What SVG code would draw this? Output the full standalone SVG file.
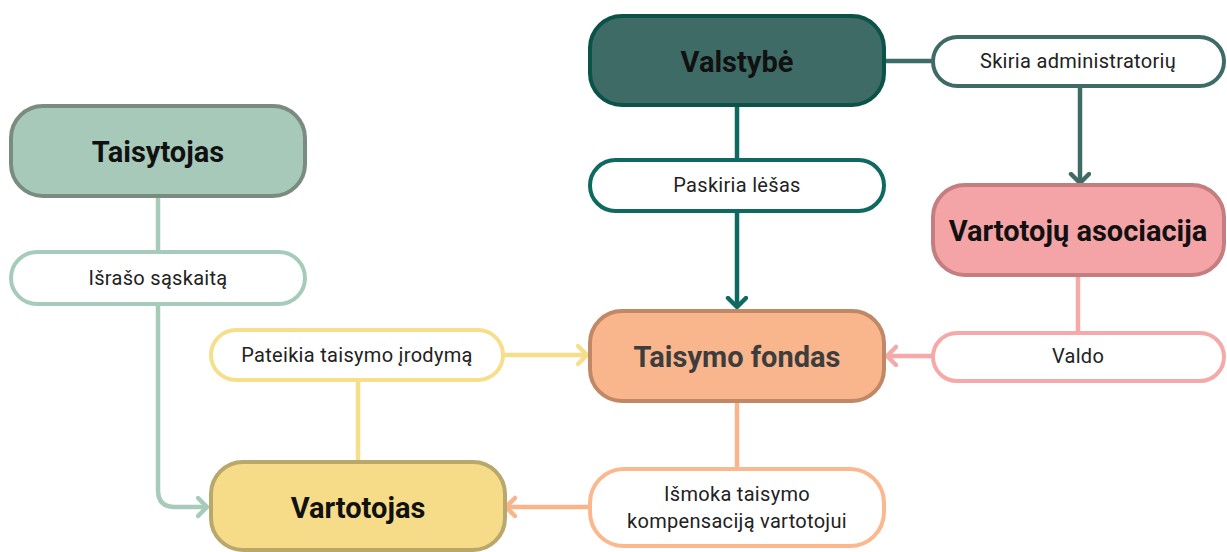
<svg xmlns="http://www.w3.org/2000/svg" width="1227" height="552" viewBox="0 0 1227 552">
  <style>
    .title { font-family: Roboto, "Liberation Sans", sans-serif; font-weight: bold; font-size: 29px; fill: #111; text-anchor: middle; dominant-baseline: central; }
    .label { font-family: Roboto, "Liberation Sans", sans-serif; font-size: 20px; fill: #222; text-anchor: middle; dominant-baseline: central; letter-spacing: 0.3px; }
    .pill { fill: #ffffff; stroke-width: 4; }
    .node { stroke-width: 4; }
    .conn { fill: none; stroke-width: 4.5; }
  </style>
  <defs>
    <marker id="ar-teal" markerUnits="userSpaceOnUse" markerWidth="24" markerHeight="24" refX="9" refY="11" orient="auto">
      <path d="M2,2 L11,11 L2,20" fill="none" stroke="#0e6a61" stroke-width="4.5" stroke-linecap="round" stroke-linejoin="round"/>
    </marker>
    <marker id="ar-teal2" markerUnits="userSpaceOnUse" markerWidth="24" markerHeight="24" refX="9" refY="11" orient="auto">
      <path d="M2,2 L11,11 L2,20" fill="none" stroke="#3f6b66" stroke-width="4.5" stroke-linecap="round" stroke-linejoin="round"/>
    </marker>
    <marker id="ar-pink" markerUnits="userSpaceOnUse" markerWidth="24" markerHeight="24" refX="9" refY="11" orient="auto">
      <path d="M2,2 L11,11 L2,20" fill="none" stroke="#f6a9a9" stroke-width="4.5" stroke-linecap="round" stroke-linejoin="round"/>
    </marker>
    <marker id="ar-green" markerUnits="userSpaceOnUse" markerWidth="24" markerHeight="24" refX="9" refY="11" orient="auto">
      <path d="M2,2 L11,11 L2,20" fill="none" stroke="#a7cbbb" stroke-width="4.5" stroke-linecap="round" stroke-linejoin="round"/>
    </marker>
    <marker id="ar-yellow" markerUnits="userSpaceOnUse" markerWidth="24" markerHeight="24" refX="9" refY="11" orient="auto">
      <path d="M2,2 L11,11 L2,20" fill="none" stroke="#f6df8b" stroke-width="4.5" stroke-linecap="round" stroke-linejoin="round"/>
    </marker>
    <marker id="ar-orange" markerUnits="userSpaceOnUse" markerWidth="24" markerHeight="24" refX="9" refY="11" orient="auto">
      <path d="M2,2 L11,11 L2,20" fill="none" stroke="#f9b48a" stroke-width="4.5" stroke-linecap="round" stroke-linejoin="round"/>
    </marker>
  </defs>
  <rect width="1227" height="552" fill="#ffffff"/>

  <g id="connectors">
    <line class="conn" x1="884" y1="61" x2="933" y2="61" stroke="#3f6b66"/>
    <line class="conn" x1="1080" y1="87" x2="1080" y2="181" stroke="#3f6b66" marker-end="url(#ar-teal2)"/>
    <line class="conn" x1="737" y1="105" x2="737" y2="160" stroke="#0e6a61"/>
    <line class="conn" x1="737" y1="211" x2="737" y2="305" stroke="#0e6a61" marker-end="url(#ar-teal)"/>
    <line class="conn" x1="1078" y1="275" x2="1078" y2="333" stroke="#f6a9a9"/>
    <line class="conn" x1="933" y1="356" x2="889" y2="356" stroke="#f6a9a9" marker-end="url(#ar-pink)"/>
    <line class="conn" x1="158" y1="196" x2="158" y2="252" stroke="#a7cbbb"/>
    <path class="conn" d="M158,304 V490 Q158,507 175,507 H205" stroke="#a7cbbb" marker-end="url(#ar-green)"/>
    <line class="conn" x1="503" y1="355" x2="585" y2="355" stroke="#f6df8b" marker-end="url(#ar-yellow)"/>
    <line class="conn" x1="358" y1="380" x2="358" y2="461" stroke="#f6df8b"/>
    <line class="conn" x1="737" y1="401" x2="737" y2="469" stroke="#f9b48a"/>
    <line class="conn" x1="590" y1="507" x2="508" y2="507" stroke="#f9b48a" marker-end="url(#ar-orange)"/>
  </g>

  <g id="valstybe">
    <rect class="node" x="590" y="16" width="294" height="89" rx="32" fill="#3e6b66" stroke="#0b5249"/>
    <text class="title" x="737" y="62">Valstybė</text>
  </g>
  <g id="skiria-administratoriu">
    <rect class="pill" x="933" y="37" width="291" height="49" rx="24.5" stroke="#3f6b66"/>
    <text class="label" x="1078" y="61">Skiria administratorių</text>
  </g>
  <g id="vartotoju-asociacija">
    <rect class="node" x="933" y="185" width="291" height="90" rx="32" fill="#f4a4a6" stroke="#c47e80"/>
    <text class="title" x="1078" y="231">Vartotojų asociacija</text>
  </g>
  <g id="paskiria-lesas">
    <rect class="pill" x="590" y="160" width="294" height="51" rx="25.5" stroke="#0e6a61"/>
    <text class="label" x="737" y="185">Paskiria lėšas</text>
  </g>
  <g id="taisymo-fondas">
    <rect class="node" x="590" y="311" width="294" height="90" rx="32" fill="#f9b58b" stroke="#c08867"/>
    <text class="title" x="737" y="357" style="fill:#3d3d3d">Taisymo fondas</text>
  </g>
  <g id="valdo">
    <rect class="pill" x="933" y="333" width="291" height="48" rx="24" stroke="#f6a9a9"/>
    <text class="label" x="1078" y="356">Valdo</text>
  </g>
  <g id="taisytojas">
    <rect class="node" x="11" y="106" width="294" height="90" rx="32" fill="#a7c9b9" stroke="#7a8c80"/>
    <text class="title" x="158" y="152">Taisytojas</text>
  </g>
  <g id="israso-saskaita">
    <rect class="pill" x="11" y="252" width="294" height="52" rx="26" stroke="#a7cbbb"/>
    <text class="label" x="158" y="278">Išrašo sąskaitą</text>
  </g>
  <g id="pateikia-taisymo-irodyma">
    <rect class="pill" x="211" y="330" width="292" height="50" rx="25" stroke="#f6df8b"/>
    <text class="label" x="357" y="355">Pateikia taisymo įrodymą</text>
  </g>
  <g id="vartotojas">
    <rect class="node" x="211" y="462" width="294" height="88" rx="32" fill="#f6dc88" stroke="#b9a86b"/>
    <text class="title" x="358" y="508">Vartotojas</text>
  </g>
  <g id="ismoka-taisymo-kompensacija">
    <rect class="pill" x="590" y="469" width="294" height="77" rx="34" stroke="#fbb78e"/>
    <text class="label" x="737" y="494">Išmoka taisymo</text>
    <text class="label" x="737" y="521">kompensaciją vartotojui</text>
  </g>
</svg>
